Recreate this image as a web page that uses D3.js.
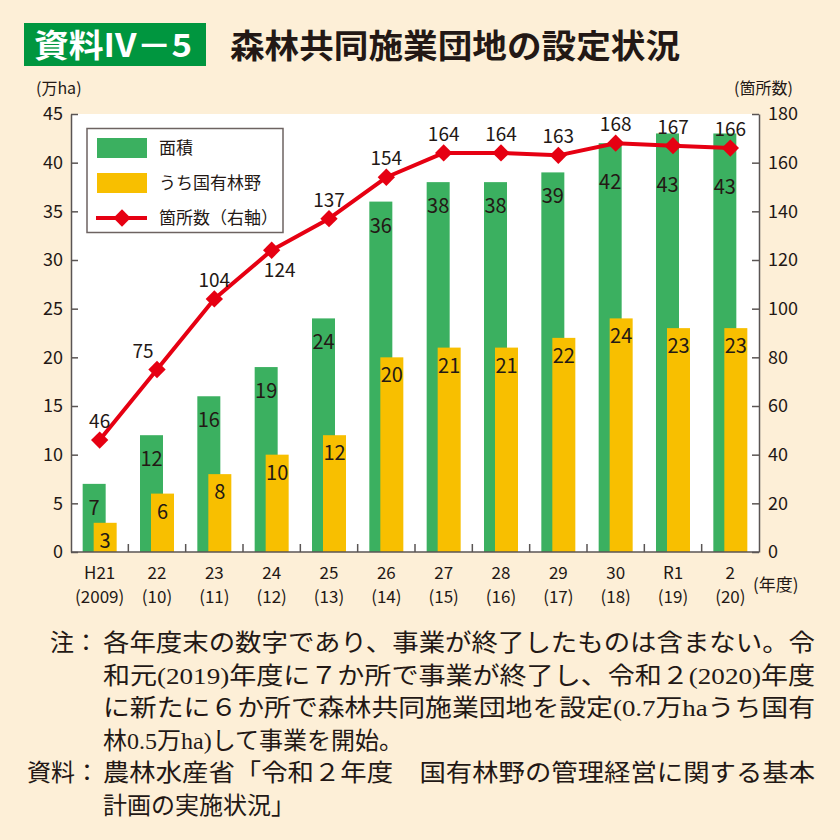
<!DOCTYPE html>
<html><head><meta charset="utf-8">
<script src="https://cdn.jsdelivr.net/npm/d3@7"></script>
<style>
html,body{margin:0;padding:0;background:#fdefd7;}
svg{display:block;}
text{font-family:"Noto Sans CJK JP","Noto Sans",sans-serif;fill:#231815;}
.note{font-family:"Liberation Serif","Noto Sans CJK JP",serif;}
</style></head>
<body>
<svg id="chart" width="840" height="840"></svg>
<script>
// ---- data ----
const categories = ["H21","22","23","24","25","26","27","28","29","30","R1","2"];
const categoriesSub = ["(2009)","(10)","(11)","(12)","(13)","(14)","(15)","(16)","(17)","(18)","(19)","(20)"];
const areaValues = [7,12,16,19,24,36,38,38,39,42,43,43];          // 面積 (万ha)
const nationalValues = [3,6,8,10,12,20,21,21,22,24,23,23];        // うち国有林野 (万ha)
const countValues = [46,75,104,124,137,154,164,164,163,168,167,166]; // 箇所数
const countLabelPlacement = ["above","left","above","below","above","above","above","above","above","above","above","above"];
const leftTicks = [0,5,10,15,20,25,30,35,40,45];
const rightTicks = [0,20,40,60,80,100,120,140,160,180];
const seriesNames = ["面積","うち国有林野","箇所数（右軸）"];
const noteLines = [
  "各年度末の数字であり、事業が終了したものは含まない。令",
  "和元(2019)年度に７か所で事業が終了し、令和２(2020)年度",
  "に新たに６か所で森林共同施業団地を設定(0.7万haうち国有",
  "林0.5万ha)して事業を開始。"
];
const sourceLines = [
  "農林水産省「令和２年度　国有林野の管理経営に関する基本",
  "計画の実施状況」"
];

// ---- layout ----
const GREEN = "#3bb060", YELLOW = "#f8bf00", RED = "#e60012", AXIS = "#5a5554";
const L = 71, R = 759, T = 114, B = 552;
const svg = d3.select("#chart");

// title
svg.append("rect").attr("x",24).attr("y",23).attr("width",182).attr("height",43).attr("fill","#00963f");
svg.append("text").attr("x",34).attr("y",57).attr("font-size",32).attr("font-weight","bold")
  .style("fill","#fff").attr("textLength",158).attr("lengthAdjust","spacingAndGlyphs").text("資料IV－5");
svg.append("text").attr("x",230).attr("y",58).attr("font-size",33).attr("font-weight","bold")
  .attr("textLength",450).attr("lengthAdjust","spacingAndGlyphs").text("森林共同施業団地の設定状況");

// plot bg
svg.append("rect").attr("x",L).attr("y",T).attr("width",R-L).attr("height",B-T).attr("fill","#fff");

const x = d3.scaleBand().domain(categories).range([L,R]).padding(0);
const yL = d3.scaleLinear().domain([0,45]).range([B,T]);
const yR = d3.scaleLinear().domain([0,180]).range([B,T]);
const cx = (i) => x(categories[i]) + x.bandwidth()/2;

// bars
const g = svg.append("g");
g.selectAll(".ga").data(areaValues).join("rect")
  .attr("x",(d,i)=>cx(i)-17).attr("width",23)
  .attr("y",d=>yL(d)).attr("height",d=>B-yL(d)).attr("fill",GREEN);
g.selectAll(".gn").data(nationalValues).join("rect")
  .attr("x",(d,i)=>cx(i)-6).attr("width",23)
  .attr("y",d=>yL(d)).attr("height",d=>B-yL(d)).attr("fill",YELLOW);

// axes
const axL = svg.append("g").attr("transform",`translate(${L},0)`)
  .call(d3.axisLeft(yL).tickValues(leftTicks).tickSizeInner(-7).tickSizeOuter(0).tickPadding(8));
const axR = svg.append("g").attr("transform",`translate(${R},0)`)
  .call(d3.axisRight(yR).tickValues(rightTicks).tickSizeInner(-7).tickSizeOuter(0).tickPadding(9));
[axL,axR].forEach(a=>{
  a.selectAll("path,line").attr("stroke",AXIS).attr("stroke-width",1.5);
  a.selectAll("text").attr("font-size",18).style("fill","#231815")
   .attr("font-family","'Noto Sans CJK JP',sans-serif");
});
svg.append("line").attr("x1",L).attr("x2",R).attr("y1",B).attr("y2",B).attr("stroke",AXIS).attr("stroke-width",1.5);
svg.selectAll(".sep").data(categories.slice(1)).join("line")
  .attr("x1",d=>x(d)).attr("x2",d=>x(d)).attr("y1",B).attr("y2",B-8)
  .attr("stroke",AXIS).attr("stroke-width",1.5);

// x labels
svg.selectAll(".xl1").data(categories).join("text")
  .attr("x",(d,i)=>cx(i)).attr("y",579).attr("text-anchor","middle").attr("font-size",17).text(d=>d);
svg.selectAll(".xl2").data(categoriesSub).join("text")
  .attr("x",(d,i)=>cx(i)).attr("y",603).attr("text-anchor","middle").attr("font-size",17).text(d=>d);
svg.append("text").attr("x",753).attr("y",591).attr("font-size",17).text("(年度)");
svg.append("text").attr("x",36).attr("y",94).attr("font-size",16).text("(万ha)");
svg.append("text").attr("x",734).attr("y",94).attr("font-size",16).text("(箇所数)");

// bar labels
svg.selectAll(".la").data(areaValues).join("text")
  .attr("x",(d,i)=>cx(i)-5.5).attr("y",(d,i)=>Math.max(yL(d)+31, yR(countValues[i])+46))
  .attr("text-anchor","middle").attr("font-size",20).text(d=>d);
svg.selectAll(".ln").data(nationalValues).join("text")
  .attr("x",(d,i)=>cx(i)+5.5).attr("y",d=>yL(d)+25)
  .attr("text-anchor","middle").attr("font-size",20).text(d=>d);

// line
const line = d3.line().x((d,i)=>cx(i)).y(d=>yR(d));
svg.append("path").datum(countValues).attr("d",line).attr("fill","none")
  .attr("stroke",RED).attr("stroke-width",4).attr("stroke-linejoin","round");
const diamond = d3.symbol().type(d3.symbolSquare).size(150);
svg.selectAll(".mk").data(countValues).join("path")
  .attr("d",diamond).attr("fill",RED)
  .attr("transform",(d,i)=>`translate(${cx(i)},${yR(d)}) rotate(45)`);
svg.selectAll(".lc").data(countValues).join("text")
  .attr("x",(d,i)=>{const p=countLabelPlacement[i];return cx(i)+(p==="left"?-14:p==="below"?8:0);})
  .attr("y",(d,i)=>{const p=countLabelPlacement[i];return yR(d)+(p==="below"?27:-12);})
  .attr("text-anchor","middle").attr("font-size",19).text(d=>d);

// legend
svg.append("rect").attr("x",87).attr("y",128.5).attr("width",196).attr("height",104)
  .attr("fill","#fff").attr("stroke","#6d6361").attr("stroke-width",1.5);
svg.append("rect").attr("x",97).attr("y",138).attr("width",50).attr("height",20).attr("fill",GREEN);
svg.append("rect").attr("x",97).attr("y",173).attr("width",50).attr("height",20).attr("fill",YELLOW);
svg.append("line").attr("x1",96).attr("x2",147).attr("y1",218).attr("y2",218).attr("stroke",RED).attr("stroke-width",4);
svg.append("path").attr("d",diamond).attr("fill",RED).attr("transform","translate(122,218) rotate(45)");
[148,183,218].forEach((yy,i)=>{
  svg.append("text").attr("x",159).attr("y",yy+6).attr("font-size",17).text(seriesNames[i]);
});

// notes
svg.append("text").attr("class","note").attr("x",50).attr("y",651).attr("font-size",24).text("注：");
svg.append("text").attr("class","note").attr("x",27).attr("y",651+4*32.6).attr("font-size",24).text("資料：");
noteLines.forEach((t,i)=>{
  const tx = svg.append("text").attr("class","note").attr("x",103).attr("y",651+i*32.6).attr("font-size",24).text(t);
  if(i<3) tx.attr("textLength",712).attr("lengthAdjust","spacingAndGlyphs");
});
sourceLines.forEach((t,i)=>{
  const tx = svg.append("text").attr("class","note").attr("x",103).attr("y",651+(4+i)*32.6).attr("font-size",24).text(t);
  if(i===0) tx.attr("textLength",712).attr("lengthAdjust","spacingAndGlyphs");
});
</script>
</body></html>
